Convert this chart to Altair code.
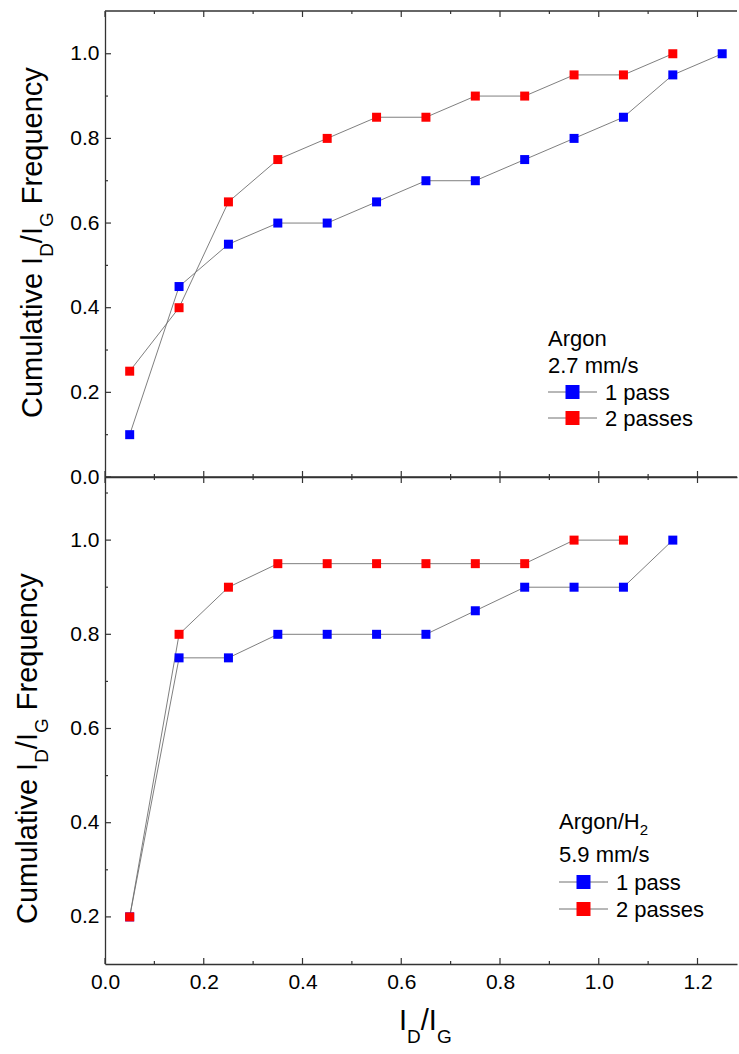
import altair as alt
import pandas as pd

# ---------------- data ----------------
x_centers = [0.05, 0.15, 0.25, 0.35, 0.45, 0.55, 0.65, 0.75, 0.85, 0.95, 1.05, 1.15, 1.25]

top_one_pass = [0.10, 0.45, 0.55, 0.60, 0.60, 0.65, 0.70, 0.70, 0.75, 0.80, 0.85, 0.95, 1.00]
top_two_passes = [0.25, 0.40, 0.65, 0.75, 0.80, 0.85, 0.85, 0.90, 0.90, 0.95, 0.95, 1.00]

bottom_one_pass = [0.20, 0.75, 0.75, 0.80, 0.80, 0.80, 0.80, 0.85, 0.90, 0.90, 0.90, 1.00]
bottom_two_passes = [0.20, 0.80, 0.90, 0.95, 0.95, 0.95, 0.95, 0.95, 0.95, 1.00, 1.00]

series_labels = ["1 pass", "2 passes"]
series_colors = ["#0000FF", "#FF0000"]

x_major_ticks = [0.0, 0.2, 0.4, 0.6, 0.8, 1.0, 1.2]
x_minor_ticks = [0.1, 0.3, 0.5, 0.7, 0.9, 1.1]
top_y_major = [0.0, 0.2, 0.4, 0.6, 0.8, 1.0]
top_y_minor = [0.1, 0.3, 0.5, 0.7, 0.9]
bottom_y_major = [0.2, 0.4, 0.6, 0.8, 1.0]
bottom_y_minor = [0.3, 0.5, 0.7, 0.9, 1.1]

top_header = ["Argon", "2.7 mm/s"]
bottom_header_main = "Argon/H"
bottom_header_sub = "2"
bottom_header_speed = "5.9 mm/s"

# ---------------- style ----------------
FONT = "Liberation Sans"
AX = "#333333"
LINE = "#707070"
W = 632
X_MAX = 1.28
H_TOP, Y_TOP = 466, [0.0, 1.101]
H_BOT, Y_BOT = 487, [0.1, 1.134]
LABEL_SIZE = 21

# Arial / Liberation Sans advance widths (per 1000 em)
ADV = {" ": 278, "C": 722, "u": 556, "m": 833, "l": 222, "a": 556, "t": 278, "i": 222,
       "v": 500, "e": 556, "I": 278, "D": 722, "/": 278, "G": 778, "F": 611, "r": 333,
       "q": 556, "n": 556, "c": 500, "y": 500, "A": 667, "g": 556, "o": 556, "H": 722}


def text_width(s, size):
    return sum(ADV.get(ch, 556) for ch in s) * size / 1000.0


def one_row(label):
    return pd.DataFrame({"t": [label]})


def text_mark(label, x, y, size, angle=0):
    kw = dict(font=FONT, fontSize=size, align="left", baseline="alphabetic", color="black")
    if angle:
        kw["angle"] = angle
    return alt.Chart(one_row(label)).mark_text(**kw).encode(
        x=alt.value(x), y=alt.value(y), text="t:N")


def sub_title_pieces(pieces, main_size, sub_size, sub_shift):
    """pieces: list of (text, is_sub, gap_before_in_em)"""
    out = []
    pos = 0.0
    for txt, is_sub, gap in pieces:
        size = sub_size if is_sub else main_size
        pos += gap * main_size
        out.append((txt, pos, size, sub_shift if is_sub else 0.0))
        pos += text_width(txt, size)
    return out


def y_title_layers(x_base, y_start):
    pieces = [("Cumulative I", False, 0), ("D", True, 0), ("/I", False, 0),
              ("G", True, 0), ("Frequency", False, 0.278)]
    layers = []
    for txt, pos, size, shift in sub_title_pieces(pieces, 29, 19, 11):
        layers.append(text_mark(txt, x_base + shift, y_start - pos, size, angle=270))
    return layers


def x_title_layers(x_start, y_base):
    pieces = [("I", False, 0), ("D", True, 0), ("/I", False, 0), ("G", True, 0)]
    layers = []
    for txt, pos, size, shift in sub_title_pieces(pieces, 29, 19, 13):
        layers.append(text_mark(txt, x_start + pos, y_base + shift, size))
    return layers


def legend_layers(x_line0, x_line1, x_text, rows_y, text_dy):
    layers = []
    for label, color, yc in zip(series_labels, series_colors, rows_y):
        layers.append(alt.Chart(one_row(label)).mark_rule(color=LINE, strokeWidth=1).encode(
            x=alt.value(x_line0), x2=alt.value(x_line1), y=alt.value(yc)))
        layers.append(alt.Chart(one_row(label)).mark_square(size=196, color=color, opacity=1).encode(
            x=alt.value((x_line0 + x_line1) / 2), y=alt.value(yc)))
        layers.append(text_mark(label, x_text, yc + text_dy, 22))
    return layers


def series_frame(ones, twos):
    rows = []
    for xv, yv in zip(x_centers, ones):
        rows.append({"x": xv, "y": yv, "series": series_labels[0]})
    for xv, yv in zip(x_centers, twos):
        rows.append({"x": xv, "y": yv, "series": series_labels[1]})
    return pd.DataFrame(rows)


def frame(values):
    return pd.DataFrame({"v": values})


def panel(df, ydom, H, ymaj, ymin, bottom_labels, extra_layers):
    xs = alt.Scale(domain=[0, X_MAX], nice=False, zero=False)
    ys = alt.Scale(domain=ydom, nice=False, zero=False)
    common = dict(domainColor=AX, domainWidth=1.3, labelFont=FONT, labelFontSize=LABEL_SIZE,
                  labelColor="black", title=None, ticks=False, tickSize=0, grid=False)
    if bottom_labels:
        xaxis = alt.Axis(values=x_major_ticks, format=".1f", labelFlush=False,
                         labelPadding=7, **common)
    else:
        xaxis = alt.Axis(labels=False, **common)
    yaxis = alt.Axis(values=ymaj, format=".1f", labelPadding=6, labelFlush=False, **common)

    base = alt.Chart(df)
    line = base.mark_line(color=LINE, strokeWidth=0.9).encode(
        x=alt.X("x:Q", scale=xs, axis=xaxis),
        y=alt.Y("y:Q", scale=ys, axis=yaxis),
        detail="series:N",
        order="x:Q",
    )
    pts = base.mark_square(size=81, opacity=1).encode(
        x=alt.X("x:Q", scale=xs, axis=xaxis),
        y=alt.Y("y:Q", scale=ys, axis=yaxis),
        color=alt.Color("series:N", scale=alt.Scale(domain=series_labels, range=series_colors),
                        legend=None),
    )

    tick_layers = []
    for vals, ln in ((x_major_ticks, 6), (x_minor_ticks, 3)):
        tick_layers.append(alt.Chart(frame(vals)).mark_rule(color=AX, strokeWidth=1.2).encode(
            x=alt.X("v:Q", scale=xs, axis=xaxis), y=alt.value(0), y2=alt.value(ln)))
        tick_layers.append(alt.Chart(frame(vals)).mark_rule(color=AX, strokeWidth=1.2).encode(
            x=alt.X("v:Q", scale=xs, axis=xaxis), y=alt.value(H), y2=alt.value(H - ln)))
    for vals, ln in ((ymaj, 6), (ymin, 3)):
        tick_layers.append(alt.Chart(frame(vals)).mark_rule(color=AX, strokeWidth=1.2).encode(
            y=alt.Y("v:Q", scale=ys, axis=yaxis), x=alt.value(0), x2=alt.value(ln)))
    top_line = alt.Chart(one_row("top")).mark_rule(color=AX, strokeWidth=1.3).encode(
        x=alt.value(0), x2=alt.value(W), y=alt.value(0))

    return alt.layer(line, pts, *tick_layers, top_line, *extra_layers).properties(
        width=W, height=H)


# ---------------- top panel ----------------
top_extra = []
top_extra.append(text_mark(top_header[0], 443, 335, 22))
top_extra.append(text_mark(top_header[1], 443, 362, 22))
top_extra += legend_layers(443, 492, 500, [381, 407], 7.5)
top_extra += y_title_layers(-63, 407)

top = panel(series_frame(top_one_pass, top_two_passes), Y_TOP, H_TOP,
            top_y_major, top_y_minor, False, top_extra)

# ---------------- bottom panel ----------------
bot_extra = []
bot_extra.append(text_mark(bottom_header_main, 454, 352, 22))
bot_extra.append(text_mark(bottom_header_sub, 454 + text_width(bottom_header_main, 22), 358, 15))
bot_extra.append(text_mark(bottom_header_speed, 454, 385, 22))
bot_extra += legend_layers(454, 503, 511, [405, 432], 7.5)
bot_extra += y_title_layers(-68, 447)
bot_extra += x_title_layers(294, 553)

bottom = panel(series_frame(bottom_one_pass, bottom_two_passes), Y_BOT, H_BOT,
               bottom_y_major, bottom_y_minor, True, bot_extra)

chart = alt.vconcat(top, bottom, spacing=0, bounds="flush").properties(
    padding={"left": 14, "top": 10, "right": 0, "bottom": 0}
).configure_view(stroke=None)

chart.save("out.html", embed_options={"renderer": "svg", "actions": False})
